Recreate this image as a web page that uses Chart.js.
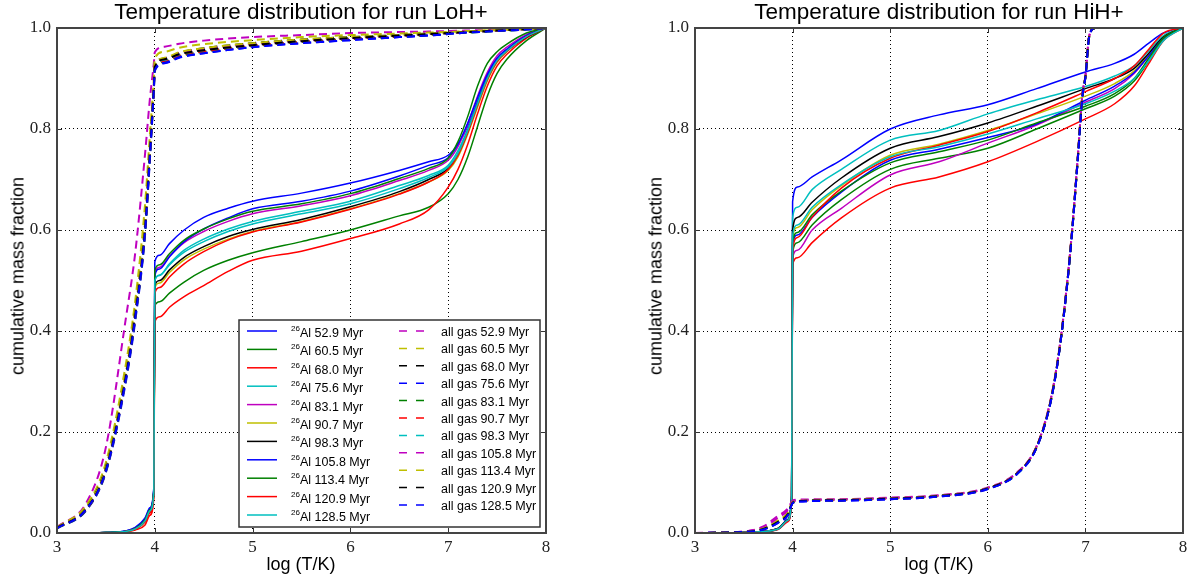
<!DOCTYPE html>
<html lang="en">
<head>
  <meta charset="UTF-8" />
  <title>Temperature distribution</title>
  <script src="https://cdn.jsdelivr.net/npm/chart.js"></script>
  <style>
    body {
      margin: 0;
      background: #fff;
      width: 1197px;
      height: 576px;
      overflow: hidden;
      position: relative;
      font-family: "Liberation Sans", Arial, sans-serif;
    }
    .panel { position: absolute; top: 0; height: 576px; }
    #left { left: 0; width: 598px; }
    #right { left: 598px; width: 599px; }
    .title {
      position: absolute; top: -1px; font-size: 22.5px; white-space: nowrap;
      transform: translateX(-50%); color: #000;
    }
    .xlab {
      position: absolute; top: 554px; font-size: 18px; white-space: nowrap;
      transform: translateX(-50%); color: #000;
    }
    .ylab {
      position: absolute; top: 276px; font-size: 18px; white-space: nowrap;
      transform: translate(-50%, -50%) rotate(-90deg); color: #000;
    }
  </style>
</head>
<body>
  <div class="panel" id="left"><canvas id="lohChart"></canvas></div>
  <div class="panel" id="right"><canvas id="hihChart"></canvas></div>

  <div class="title" style="left:301px">Temperature distribution for run LoH+</div>
  <div class="title" style="left:939px">Temperature distribution for run HiH+</div>
  <div class="xlab" style="left:301px">log (T/K)</div>
  <div class="xlab" style="left:939px">log (T/K)</div>
  <div class="ylab" style="left:18px">cumulative mass fraction</div>
  <div class="ylab" style="left:656px">cumulative mass fraction</div>

  <script>
    // snapshot ages (Myr)
    const ages = ["52.9", "60.5", "68.0", "75.6", "83.1", "90.7", "98.3", "105.8", "113.4", "120.9", "128.5"];

    // ---- run LoH+ ----
    const lohAlT = [3.0, 3.5, 3.7, 3.8, 3.9, 3.95, 3.99, 4.0, 4.05, 4.15, 4.3, 4.5, 4.75, 5.0, 5.5, 6.0, 6.5, 6.8, 7.0, 7.1, 7.2, 7.3, 7.4, 7.5, 7.6, 7.8, 8.0];
    const lohAl = [
      [0, 0.001, 0.004, 0.011, 0.03, 0.05, 0.09, 0.537, 0.55, 0.573, 0.6, 0.625, 0.643, 0.657, 0.673, 0.693, 0.718, 0.735, 0.748, 0.77, 0.805, 0.855, 0.905, 0.94, 0.958, 0.985, 1],   // 52.9
      [0, 0, 0.003, 0.008, 0.022, 0.042, 0.08, 0.45, 0.458, 0.475, 0.497, 0.52, 0.54, 0.555, 0.577, 0.6, 0.628, 0.645, 0.672, 0.7, 0.745, 0.805, 0.865, 0.91, 0.938, 0.975, 1],       // 60.5
      [0, 0, 0.002, 0.006, 0.016, 0.035, 0.07, 0.418, 0.428, 0.447, 0.468, 0.49, 0.518, 0.54, 0.558, 0.583, 0.612, 0.64, 0.685, 0.72, 0.77, 0.83, 0.885, 0.925, 0.948, 0.98, 1],     // 68.0
      [0, 0.001, 0.003, 0.009, 0.025, 0.045, 0.082, 0.5, 0.511, 0.533, 0.56, 0.582, 0.602, 0.617, 0.637, 0.657, 0.688, 0.708, 0.728, 0.757, 0.8, 0.852, 0.902, 0.937, 0.956, 0.984, 1], // 75.6
      [0, 0.001, 0.003, 0.009, 0.026, 0.046, 0.085, 0.515, 0.526, 0.548, 0.575, 0.597, 0.617, 0.632, 0.648, 0.668, 0.698, 0.718, 0.738, 0.765, 0.81, 0.865, 0.912, 0.945, 0.962, 0.987, 1], // 83.1
      [0, 0.001, 0.003, 0.008, 0.024, 0.044, 0.08, 0.485, 0.495, 0.516, 0.541, 0.562, 0.582, 0.597, 0.617, 0.642, 0.672, 0.695, 0.718, 0.745, 0.79, 0.843, 0.895, 0.932, 0.953, 0.983, 1], // 90.7
      [0, 0.001, 0.003, 0.009, 0.025, 0.045, 0.082, 0.49, 0.5, 0.521, 0.546, 0.567, 0.587, 0.601, 0.621, 0.646, 0.676, 0.7, 0.722, 0.75, 0.795, 0.85, 0.9, 0.935, 0.955, 0.982, 1],     // 98.3
      [0, 0.001, 0.004, 0.01, 0.028, 0.048, 0.087, 0.51, 0.523, 0.547, 0.577, 0.602, 0.624, 0.642, 0.657, 0.677, 0.707, 0.728, 0.743, 0.77, 0.812, 0.862, 0.908, 0.94, 0.958, 0.985, 1], // 105.8
      [0, 0.001, 0.003, 0.009, 0.026, 0.046, 0.085, 0.52, 0.531, 0.553, 0.58, 0.602, 0.622, 0.637, 0.652, 0.672, 0.702, 0.722, 0.742, 0.775, 0.825, 0.885, 0.93, 0.953, 0.968, 0.99, 1],  // 113.4
      [0, 0, 0.003, 0.008, 0.022, 0.04, 0.078, 0.475, 0.486, 0.507, 0.533, 0.557, 0.58, 0.596, 0.616, 0.641, 0.671, 0.695, 0.72, 0.748, 0.793, 0.847, 0.898, 0.934, 0.954, 0.983, 1],   // 120.9
      [0, 0.001, 0.003, 0.008, 0.024, 0.044, 0.08, 0.5, 0.51, 0.531, 0.556, 0.577, 0.597, 0.612, 0.632, 0.652, 0.682, 0.704, 0.725, 0.752, 0.797, 0.85, 0.9, 0.936, 0.955, 0.983, 1]     // 128.5
    ];
    const lohGasT = [3.0, 3.3, 3.5, 3.7, 3.8, 3.9, 3.95, 3.99, 4.0, 4.1, 4.25, 4.5, 5.0, 5.5, 6.0, 6.5, 6.8, 7.0, 7.2, 7.4, 7.6, 7.8, 8.0];
    const lohGas = [
      [0.012, 0.06, 0.17, 0.42, 0.555, 0.75, 0.86, 0.93, 0.952, 0.963, 0.969, 0.975, 0.982, 0.986, 0.99, 0.992, 0.993, 0.994, 0.995, 0.996, 0.997, 0.998, 1],
      [0.011, 0.055, 0.14, 0.33, 0.46, 0.65, 0.79, 0.9, 0.94, 0.953, 0.961, 0.968, 0.976, 0.982, 0.986, 0.989, 0.991, 0.992, 0.994, 0.995, 0.997, 0.998, 1],
      [0.01, 0.05, 0.13, 0.31, 0.44, 0.61, 0.76, 0.885, 0.925, 0.94, 0.951, 0.96, 0.97, 0.977, 0.982, 0.986, 0.989, 0.99, 0.992, 0.994, 0.996, 0.998, 1],
      [0.009, 0.045, 0.12, 0.295, 0.42, 0.59, 0.74, 0.875, 0.915, 0.93, 0.941, 0.95, 0.962, 0.97, 0.976, 0.982, 0.985, 0.988, 0.991, 0.993, 0.995, 0.997, 1],
      [0.009, 0.046, 0.122, 0.3, 0.425, 0.595, 0.745, 0.878, 0.918, 0.933, 0.944, 0.953, 0.964, 0.972, 0.978, 0.983, 0.986, 0.989, 0.991, 0.993, 0.995, 0.997, 1],
      [0.01, 0.047, 0.123, 0.302, 0.428, 0.598, 0.748, 0.88, 0.92, 0.935, 0.946, 0.954, 0.965, 0.973, 0.979, 0.984, 0.987, 0.99, 0.992, 0.994, 0.996, 0.998, 1],
      [0.01, 0.048, 0.124, 0.304, 0.43, 0.6, 0.75, 0.882, 0.922, 0.937, 0.948, 0.956, 0.966, 0.974, 0.98, 0.985, 0.988, 0.99, 0.992, 0.994, 0.996, 0.998, 1],
      [0.01, 0.049, 0.126, 0.308, 0.435, 0.605, 0.755, 0.885, 0.924, 0.939, 0.95, 0.958, 0.968, 0.975, 0.98, 0.985, 0.988, 0.99, 0.992, 0.994, 0.996, 0.998, 1],
      [0.01, 0.05, 0.128, 0.312, 0.44, 0.61, 0.758, 0.887, 0.926, 0.941, 0.952, 0.96, 0.97, 0.977, 0.982, 0.986, 0.989, 0.991, 0.993, 0.995, 0.996, 0.998, 1],
      [0.01, 0.048, 0.125, 0.306, 0.432, 0.602, 0.752, 0.883, 0.923, 0.938, 0.948, 0.956, 0.966, 0.974, 0.98, 0.985, 0.988, 0.99, 0.992, 0.994, 0.996, 0.998, 1],
      [0.009, 0.047, 0.123, 0.3, 0.426, 0.596, 0.746, 0.878, 0.917, 0.931, 0.942, 0.95, 0.962, 0.97, 0.976, 0.982, 0.985, 0.988, 0.991, 0.993, 0.995, 0.997, 1]
    ];

    // ---- run HiH+ ----
    const hihAlT = [3.0, 3.5, 3.7, 3.85, 3.95, 3.99, 4.0, 4.05, 4.2, 4.5, 5.0, 5.5, 6.0, 6.5, 7.0, 7.3, 7.5, 7.65, 7.8, 8.0];
    const hihAl = [
      [0, 0.001, 0.003, 0.009, 0.027, 0.075, 0.656, 0.685, 0.705, 0.739, 0.8, 0.828, 0.848, 0.88, 0.913, 0.93, 0.948, 0.97, 0.99, 1],   // 52.9
      [0, 0.001, 0.003, 0.008, 0.024, 0.068, 0.555, 0.575, 0.61, 0.66, 0.72, 0.742, 0.762, 0.8, 0.84, 0.865, 0.895, 0.935, 0.978, 1],  // 60.5
      [0, 0, 0.002, 0.007, 0.022, 0.064, 0.53, 0.545, 0.575, 0.624, 0.683, 0.705, 0.735, 0.775, 0.82, 0.85, 0.885, 0.93, 0.975, 1],    // 68.0
      [0, 0.001, 0.003, 0.009, 0.026, 0.072, 0.625, 0.645, 0.68, 0.72, 0.778, 0.797, 0.83, 0.858, 0.884, 0.905, 0.925, 0.955, 0.985, 1], // 75.6
      [0, 0.001, 0.003, 0.008, 0.024, 0.067, 0.545, 0.56, 0.6, 0.643, 0.709, 0.735, 0.772, 0.808, 0.853, 0.88, 0.91, 0.945, 0.98, 1],   // 83.1
      [0, 0.001, 0.003, 0.008, 0.025, 0.07, 0.585, 0.605, 0.64, 0.688, 0.748, 0.77, 0.797, 0.83, 0.865, 0.89, 0.915, 0.948, 0.982, 1],  // 90.7
      [0, 0.001, 0.003, 0.009, 0.026, 0.071, 0.6, 0.625, 0.655, 0.703, 0.762, 0.785, 0.812, 0.845, 0.88, 0.9, 0.92, 0.95, 0.982, 1],    // 98.3
      [0, 0.001, 0.003, 0.008, 0.025, 0.069, 0.57, 0.59, 0.625, 0.675, 0.738, 0.76, 0.783, 0.81, 0.857, 0.885, 0.912, 0.945, 0.98, 1],  // 105.8
      [0, 0.001, 0.003, 0.008, 0.025, 0.069, 0.575, 0.595, 0.63, 0.677, 0.733, 0.755, 0.778, 0.812, 0.845, 0.87, 0.9, 0.94, 0.98, 1],   // 113.4
      [0, 0.001, 0.003, 0.008, 0.024, 0.067, 0.56, 0.585, 0.625, 0.683, 0.742, 0.768, 0.795, 0.832, 0.874, 0.9, 0.925, 0.958, 0.99, 1], // 120.9
      [0, 0.001, 0.003, 0.008, 0.025, 0.07, 0.59, 0.61, 0.645, 0.69, 0.745, 0.765, 0.79, 0.82, 0.85, 0.875, 0.9, 0.935, 0.975, 1]       // 128.5
    ];
    const hihGasT = [3.0, 3.5, 3.7, 3.85, 3.95, 4.0, 4.05, 4.5, 5.0, 5.5, 6.0, 6.3, 6.5, 6.65, 6.75, 6.85, 6.92, 6.97, 7.0, 7.04, 7.1, 8.0];
    const hihGas = [
      [0, 0.003, 0.013, 0.034, 0.048, 0.064, 0.066, 0.067, 0.07, 0.075, 0.09, 0.12, 0.172, 0.27, 0.39, 0.57, 0.74, 0.87, 0.905, 0.985, 1, 1],
      [0, 0.002, 0.009, 0.025, 0.04, 0.061, 0.064, 0.066, 0.069, 0.074, 0.089, 0.119, 0.171, 0.268, 0.388, 0.568, 0.738, 0.868, 0.904, 0.985, 1, 1],
      [0, 0.002, 0.008, 0.022, 0.037, 0.06, 0.063, 0.065, 0.068, 0.073, 0.088, 0.118, 0.17, 0.267, 0.387, 0.567, 0.737, 0.867, 0.903, 0.984, 1, 1],
      [0, 0.002, 0.007, 0.02, 0.035, 0.059, 0.062, 0.064, 0.067, 0.072, 0.087, 0.117, 0.169, 0.265, 0.385, 0.565, 0.735, 0.865, 0.902, 0.984, 1, 1],
      [0, 0.002, 0.008, 0.021, 0.036, 0.06, 0.063, 0.065, 0.068, 0.073, 0.088, 0.118, 0.17, 0.266, 0.386, 0.566, 0.736, 0.866, 0.903, 0.984, 1, 1],
      [0, 0.002, 0.008, 0.022, 0.036, 0.06, 0.063, 0.065, 0.068, 0.073, 0.088, 0.118, 0.171, 0.267, 0.387, 0.567, 0.737, 0.867, 0.903, 0.985, 1, 1],
      [0, 0.002, 0.008, 0.022, 0.037, 0.06, 0.063, 0.065, 0.068, 0.073, 0.088, 0.117, 0.17, 0.266, 0.386, 0.566, 0.736, 0.866, 0.902, 0.984, 1, 1],
      [0, 0.003, 0.011, 0.03, 0.045, 0.062, 0.064, 0.066, 0.069, 0.074, 0.089, 0.119, 0.171, 0.268, 0.388, 0.568, 0.738, 0.868, 0.904, 0.985, 1, 1],
      [0, 0.002, 0.009, 0.024, 0.039, 0.061, 0.063, 0.065, 0.068, 0.073, 0.088, 0.118, 0.17, 0.267, 0.387, 0.567, 0.737, 0.867, 0.903, 0.984, 1, 1],
      [0, 0.002, 0.008, 0.022, 0.037, 0.06, 0.063, 0.065, 0.068, 0.073, 0.088, 0.118, 0.17, 0.266, 0.386, 0.566, 0.736, 0.866, 0.903, 0.984, 1, 1],
      [0, 0.002, 0.007, 0.02, 0.035, 0.059, 0.062, 0.064, 0.067, 0.072, 0.087, 0.117, 0.169, 0.265, 0.385, 0.565, 0.735, 0.865, 0.902, 0.984, 1, 1]
    ];

    // matplotlib classic colour cycle, continued from the Al lines into the gas lines
    const alColors = ["#0000ff", "#008000", "#ff0000", "#00bfbf", "#bf00bf", "#bfbf00", "#000000", "#0000ff", "#008000", "#ff0000", "#00bfbf"];
    const gasColors = ["#bf00bf", "#bfbf00", "#000000", "#0000ff", "#008000", "#ff0000", "#00bfbf", "#bf00bf", "#bfbf00", "#000000", "#0000ff"];
    const GAS_DASH = [8, 5];

    function buildDatasets(alT, al, gasT, gas) {
      const sets = [];
      al.forEach((vals, i) => sets.push({
        label: "26Al " + ages[i] + " Myr",
        data: alT.map((t, k) => ({ x: t, y: vals[k] })),
        borderColor: alColors[i],
        borderWidth: 1.5
      }));
      gas.forEach((vals, i) => sets.push({
        label: "all gas " + ages[i] + " Myr",
        data: gasT.map((t, k) => ({ x: t, y: vals[k] })),
        borderColor: gasColors[i],
        borderWidth: 2,
        borderDash: GAS_DASH
      }));
      // later series are painted on top, as in matplotlib
      sets.forEach((s, i) => {
        s.order = -i;
        s.pointRadius = 0;
        s.fill = false;
        s.cubicInterpolationMode = "monotone";
      });
      return sets;
    }

    // box with inward ticks on all four sides
    const framePlugin = {
      id: "frame",
      afterDraw(chart) {
        const { ctx, chartArea: a, scales: { x, y } } = chart;
        ctx.save();
        ctx.strokeStyle = "#333";
        ctx.lineWidth = 1;
        ctx.beginPath();
        x.ticks.forEach(t => {
          const px = Math.round(x.getPixelForValue(t.value)) + 0.5;
          ctx.moveTo(px, a.bottom); ctx.lineTo(px, a.bottom - 5);
          ctx.moveTo(px, a.top); ctx.lineTo(px, a.top + 5);
        });
        y.ticks.forEach(t => {
          const py = Math.round(y.getPixelForValue(t.value)) + 0.5;
          ctx.moveTo(a.left, py); ctx.lineTo(a.left + 5, py);
          ctx.moveTo(a.right, py); ctx.lineTo(a.right - 5, py);
        });
        ctx.stroke();
        ctx.lineWidth = 2;
        ctx.strokeStyle = "#444";
        ctx.strokeRect(a.left, a.top, a.right - a.left, a.bottom - a.top);
        ctx.restore();
      }
    };

    // two-column legend in the lower right of the LoH+ panel
    const legendPlugin = {
      id: "boxLegend",
      afterDraw(chart) {
        const { ctx, chartArea: a } = chart;
        const w = 301, h = 207;
        const bx = a.right - 6 - w, by = a.bottom - 6 - h;
        ctx.save();
        ctx.fillStyle = "#fff";
        ctx.fillRect(bx, by, w, h);
        ctx.strokeStyle = "#333";
        ctx.lineWidth = 1.5;
        ctx.strokeRect(bx, by, w, h);
        ctx.textBaseline = "alphabetic";
        ages.forEach((age, i) => {
          // 26Al column
          let yy = by + 11 + i * 18.4;
          ctx.setLineDash([]);
          ctx.strokeStyle = alColors[i];
          ctx.lineWidth = 1.5;
          ctx.beginPath(); ctx.moveTo(bx + 8, yy); ctx.lineTo(bx + 38, yy); ctx.stroke();
          ctx.fillStyle = "#000";
          ctx.font = '8px "Liberation Sans", Arial, sans-serif';
          ctx.fillText("26", bx + 52, yy);
          ctx.font = '12.5px "Liberation Sans", Arial, sans-serif';
          ctx.fillText("Al " + age + " Myr", bx + 61, yy + 6);
          // all gas column
          yy = by + 11 + i * 17.4;
          ctx.setLineDash([8, 9]);
          ctx.strokeStyle = gasColors[i];
          ctx.lineWidth = 1.5;
          ctx.beginPath(); ctx.moveTo(bx + 160, yy); ctx.lineTo(bx + 186, yy); ctx.stroke();
          ctx.fillText("all gas " + age + " Myr", bx + 202, yy + 5);
        });
        ctx.restore();
      }
    };

    const tickFont = { family: '"Liberation Serif", "Times New Roman", serif', size: 17 };

    function makeOptions(padLeft, padRight) {
      return {
        responsive: true,
        maintainAspectRatio: false,
        animation: false,
        layout: { padding: { left: padLeft, right: padRight, top: 28, bottom: 0 } },
        plugins: { legend: { display: false }, tooltip: { enabled: false } },
        scales: {
          x: {
            type: "linear", min: 3, max: 8,
            ticks: { stepSize: 1, font: tickFont, color: "#222", padding: 4, maxRotation: 0 },
            grid: { color: "#000", lineWidth: 1, drawTicks: false },
            border: { display: false, dash: [1, 3] },
            afterFit: s => { s.height = 43; }
          },
          y: {
            min: 0, max: 1,
            ticks: { stepSize: 0.2, font: tickFont, color: "#222", padding: 6, callback: v => v.toFixed(1) },
            grid: { color: "#000", lineWidth: 1, drawTicks: false },
            border: { display: false, dash: [1, 3] },
            afterFit: s => { s.width = 57; }
          }
        }
      };
    }

    new Chart(document.getElementById("lohChart"), {
      type: "line",
      data: { datasets: buildDatasets(lohAlT, lohAl, lohGasT, lohGas) },
      options: makeOptions(0, 52),
      plugins: [framePlugin, legendPlugin]
    });

    new Chart(document.getElementById("hihChart"), {
      type: "line",
      data: { datasets: buildDatasets(hihAlT, hihAl, hihGasT, hihGas) },
      options: makeOptions(40, 14),
      plugins: [framePlugin]
    });
  </script>
</body>
</html>
